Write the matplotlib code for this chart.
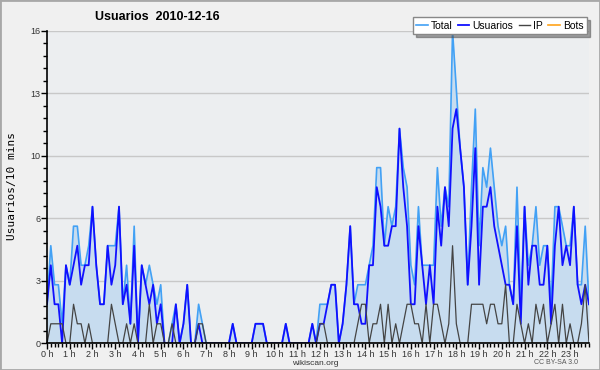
import matplotlib
matplotlib.use('Agg')
import matplotlib.pyplot as plt
from matplotlib.patches import Rectangle
from matplotlib.ticker import FixedLocator, MultipleLocator, AutoMinorLocator
from matplotlib.lines import Line2D

# users per 10-minute slot, 144 slots for 2010-12-16
usuarios = [2, 4, 2, 2, 0, 4, 3, 4, 5, 3,
            4, 4, 7, 4, 2, 2, 5, 3, 4, 7,
            2, 3, 1, 5, 0, 4, 3, 2, 3, 1,
            2, 0, 0, 0, 2, 0, 1, 3, 0, 0,
            1, 0, 0, 0, 0, 0, 0, 0, 0, 1,
            0, 0, 0, 0, 0, 1, 1, 1, 0, 0,
            0, 0, 0, 1, 0, 0, 0, 0, 0, 0,
            1, 0, 1, 1, 2, 3, 3, 0, 1, 3,
            6, 2, 2, 1, 1, 4, 4, 8, 7, 5,
            5, 6, 6, 11, 8, 6, 2, 2, 6, 4,
            2, 4, 2, 7, 5, 8, 6, 11, 12, 10,
            8, 3, 6, 10, 3, 7, 7, 8, 6, 5,
            4, 3, 3, 2, 6, 1, 7, 3, 5, 5,
            3, 3, 5, 1, 5, 7, 4, 5, 4, 7,
            3, 2, 3, 2]

ip = [0, 1, 1, 1, 1, 0, 0, 2, 1, 1,
      0, 1, 0, 0, 0, 0, 0, 2, 1, 0,
      0, 1, 0, 1, 0, 0, 0, 2, 0, 1,
      1, 0, 0, 1, 0, 0, 0, 0, 0, 0,
      1, 1, 0, 0, 0, 0, 0, 0, 0, 0,
      0, 0, 0, 0, 0, 0, 0, 0, 0, 0,
      0, 0, 0, 0, 0, 0, 0, 0, 0, 0,
      0, 0, 1, 1, 0, 0, 0, 0, 0, 0,
      0, 0, 1, 2, 2, 0, 1, 1, 2, 0,
      2, 0, 1, 0, 1, 2, 2, 1, 1, 0,
      2, 0, 2, 2, 1, 0, 1, 5, 1, 0,
      0, 0, 2, 2, 2, 2, 1, 2, 2, 1,
      1, 3, 0, 0, 2, 1, 0, 1, 0, 2,
      1, 2, 0, 1, 2, 0, 2, 0, 1, 0,
      0, 1, 3, 0]

total = [2, 5, 3, 3, 1, 4, 3, 6, 6, 4,
         4, 5, 7, 4, 2, 2, 5, 5, 5, 7,
         2, 4, 1, 6, 0, 4, 3, 4, 3, 2,
         3, 0, 0, 1, 2, 0, 1, 3, 0, 0,
         2, 1, 0, 0, 0, 0, 0, 0, 0, 1,
         0, 0, 0, 0, 0, 1, 1, 1, 0, 0,
         0, 0, 0, 1, 0, 0, 0, 0, 0, 0,
         1, 0, 2, 2, 2, 3, 3, 0, 1, 3,
         6, 2, 3, 3, 3, 4, 5, 9, 9, 5,
         7, 6, 7, 11, 9, 8, 4, 3, 7, 4,
         4, 4, 4, 9, 6, 8, 7, 16, 13, 10,
         8, 3, 8, 12, 5, 9, 8, 10, 8, 6,
         5, 6, 3, 2, 8, 2, 7, 4, 5, 7,
         4, 5, 5, 2, 7, 7, 6, 5, 5, 7,
         3, 3, 6, 2]

bots = [0] * 144

slots = list(range(144))
hour_labels = ['%d h' % h for h in range(24)]
y_ticks = [0, 3.2, 6.4, 9.6, 12.8, 16]
y_labels = ['0', '3', '6', '10', '13', '16']

c_total = '#42a1f5'
c_users = '#1010ff'
c_ip = '#444444'
c_bots = '#ffa31a'
c_fill = '#c7dcef'

fig = plt.figure(figsize=(6, 3.7), dpi=100, facecolor='#f0f0f0')
fig.patches.append(Rectangle((0, 0), 1, 1, transform=fig.transFigure,
                             fill=False, edgecolor='#a8a8a8', lw=2))

ax = fig.add_axes([47 / 600, 1 - 343.3 / 370, 542 / 600, 312.3 / 370])
ax.set_facecolor('#eceef0')

ax.fill_between(slots, total, 0, color=c_fill, lw=0, zorder=1)
ax.plot(slots, bots, color=c_bots, lw=1, zorder=2)
ax.plot(slots, total, color=c_total, lw=1.2, zorder=3)
ax.plot(slots, usuarios, color=c_users, lw=1.3, zorder=4)
ax.plot(slots, ip, color=c_ip, lw=0.9, zorder=5)

ax.set_xlim(0, 143)
ax.set_ylim(0, 16)

ax.yaxis.set_major_locator(FixedLocator(y_ticks))
ax.set_yticklabels(y_labels, family='Liberation Sans')
ax.yaxis.set_minor_locator(AutoMinorLocator(5))
ax.xaxis.set_major_locator(FixedLocator(range(0, 144, 6)))
ax.set_xticklabels(hour_labels, family='Liberation Sans')
ax.xaxis.set_minor_locator(MultipleLocator(1))

ax.grid(axis='y', color='#c8c8c8', lw=1, zorder=0)
ax.set_axisbelow(True)
for s in ['top', 'right']:
    ax.spines[s].set_visible(False)
for s in ['left', 'bottom']:
    ax.spines[s].set_color('black')
    ax.spines[s].set_linewidth(1.2)
    ax.spines[s].set_zorder(6)

ax.tick_params(axis='both', which='major', direction='out', length=4,
               width=1, labelsize=6.5, labelcolor='#333333', pad=0.5)
ax.tick_params(axis='both', which='minor', direction='out', length=3, width=1)

fig.text(12 / 600, 1 - 186 / 370, 'Usuarios/10 mins', rotation=90,
         ha='center', va='center', family='DejaVu Sans Mono', fontsize=8)
fig.text(157 / 600, 1 - 17 / 370, 'Usuarios  2010-12-16', ha='center', va='center',
         fontsize=9, fontweight='bold', family='Liberation Sans')
fig.text(315 / 600, 1 - 363.5 / 370, 'wikiscan.org', ha='center', va='center',
         fontsize=6, color='#333333', family='Liberation Sans')
fig.text(556 / 600, 1 - 363 / 370, 'CC BY-SA 3.0', ha='center', va='center',
         fontsize=5, color='#555555', family='Liberation Sans')

handles = [Line2D([], [], color=c_total, lw=1.2),
           Line2D([], [], color=c_users, lw=1.3),
           Line2D([], [], color=c_ip, lw=1),
           Line2D([], [], color=c_bots, lw=1.2)]
leg = fig.legend(handles, ['Total', 'Usuarios', 'IP', 'Bots'], ncol=4,
                 loc='upper right', bbox_to_anchor=(587 / 600, 1 - 17 / 370),
                 prop={'family': 'Liberation Sans', 'size': 7.5},
                 frameon=True, fancybox=False, shadow=True,
                 handlelength=1.1, handletextpad=0.3, columnspacing=0.5,
                 borderpad=0.35, borderaxespad=0)
leg.get_frame().set_edgecolor('#888888')
leg.get_frame().set_linewidth(1)

fig.savefig('out.png', dpi=100, facecolor=fig.get_facecolor())
